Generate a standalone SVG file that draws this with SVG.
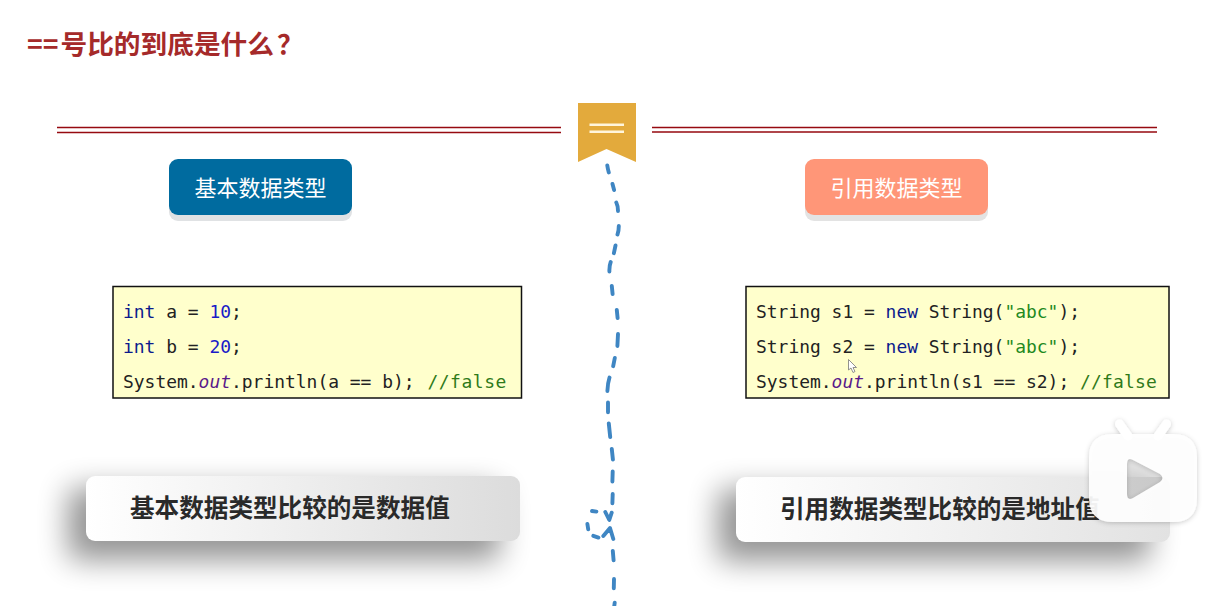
<svg xmlns="http://www.w3.org/2000/svg" width="1228" height="606" viewBox="0 0 1228 606">
<style>
.cjk{font-family:"Noto Sans CJK SC","Noto Sans",sans-serif}
.title{font-size:26.7px;font-weight:700;fill:#a52a2a}
.btn{font-size:22px;fill:#fff;text-anchor:middle}
.code{font-family:"DejaVu Sans Mono","Liberation Mono",monospace;font-size:17.95px;fill:#222}
.box{fill:#ffffcc;stroke:#111;stroke-width:1.5}
.kw{fill:#0b1a8c}.num{fill:#1a1ac8}.fld{fill:#5a1a8a;font-style:italic}.cmt{fill:#2f7a1a}.str{fill:#1f8a1f}
.note{font-size:24.6px;font-weight:700;fill:#2a2a2a}
.panel{fill:url(#pg)}
.rule{stroke:#960a10;stroke-width:1.5;fill:none}
.dash{fill:none;stroke:#3f86c3;stroke-width:3.9;stroke-linecap:round;stroke-linejoin:round}
</style>
<defs>
<linearGradient id="pg" x1="0" x2="1" y1="0" y2="0"><stop offset="0" stop-color="#ffffff"/><stop offset="1" stop-color="#dcdcdc"/></linearGradient>
<linearGradient id="pg2" x1="0" x2="1" y1="0" y2="0"><stop offset="0" stop-color="#ffffff"/><stop offset="1" stop-color="#e2e2e2"/></linearGradient>
<filter id="blur" x="-20%" y="-80%" width="140%" height="260%"><feGaussianBlur stdDeviation="15"/></filter>
<filter id="tvs" x="-20%" y="-20%" width="140%" height="140%"><feDropShadow dx="0" dy="1" stdDeviation="2.5" flood-color="#000" flood-opacity=".22"/></filter>
</defs>
<rect width="1228" height="606" fill="#fff"/>
<text class="cjk title" x="27" y="54">==<tspan dx="2">号比的到底是什么</tspan><tspan dx="3">？</tspan></text>
<g id="divider">
<path class="rule" d="M57 127.500H561M57 132.500H561M652 127.500H1157M652 132H1157"/>
<path d="M578 103H636V162L606.5 149L578 162Z" fill="#e3aa3c"/>
<path d="M589.5 124.8H624M589.5 131.8H624" stroke="#fff5dc" stroke-width="2.6" fill="none"/>
</g>
<g id="connectors">
<path class="dash" d="M607.3 165.500Q607.8 169 608.800 172.500M612.5 184L614.1 190M616.300 202.500Q618 206 618 211M618.800 226Q618.800 231 617.5 234.500M615.5 245.500L613.900 253.200M610.7 262Q609.200 266 609.4 271.500M611.8 286L612.6 294M616.8 310L617.6 318M618 334L617.4 346M614.8 358L613.200 366.200M609.5 377.500Q607.7 383 607.4 391M608 402.500V412.200M608.8 423.500L610.2 437M611.8 449L612.9 459.500M612.7 471.500L612.4 481.500M612.7 494L612.4 503.300M605.3 512L609.3 520L611.7 512.7M592 511L596.4 511.6M587.4 524L588.200 529.300M593.300 535.800L598.400 537.600M603.3 536L610 528L613.3 539M612.8 551L613.6 560.300M614 579L613.8 588.300M614.7 602.700L614 608"/>
</g>
<g id="btn-primitive">
<rect x="169" y="165" width="183" height="56" rx="9" fill="#e0e2e4"/>
<rect x="169" y="159" width="183" height="56" rx="9" fill="#006b9f"/>
<text class="cjk btn" x="260.5" y="196">基本数据类型</text>
</g>
<g id="btn-reference">
<rect x="805" y="165" width="183" height="56" rx="9" fill="#e3e3e3"/>
<rect x="805" y="159" width="183" height="56" rx="9" fill="#ff9678"/>
<text class="cjk btn" x="896.5" y="196">引用数据类型</text>
</g>
<g id="code-primitive">
<rect class="box" x="113" y="286.5" width="408.500" height="111.500"/>
<text class="code" x="123" y="318"><tspan class="kw">int</tspan> a = <tspan class="num">10</tspan>;</text>
<text class="code" x="123" y="353"><tspan class="kw">int</tspan> b = <tspan class="num">20</tspan>;</text>
<text class="code" x="123" y="388">System.<tspan class="fld">out</tspan>.println(a == b); <tspan class="cmt" dx="2" letter-spacing=".55">//false</tspan></text>
</g>
<g id="code-reference">
<rect class="box" x="746" y="286.5" width="423" height="111.500"/>
<text class="code" x="756" y="318">String s1 = <tspan class="kw">new</tspan> String(<tspan class="str">"abc"</tspan>);</text>
<text class="code" x="756" y="353">String s2 = <tspan class="kw">new</tspan> String(<tspan class="str">"abc"</tspan>);</text>
<text class="code" x="756" y="388">System.<tspan class="fld">out</tspan>.println(s1 == s2); <tspan class="cmt" letter-spacing=".2">//false</tspan></text>
<path d="M848.500 359.500V370L851 368L853 372.500L855 371.500L853 367.500L856.500 367.500Z" fill="#fff" stroke="#777" stroke-width=".8"/>
</g>
<g id="note-primitive">
<rect x="68" y="488" width="432" height="72" rx="8" fill="#000" opacity=".42" filter="url(#blur)"/>
<rect class="panel" x="86" y="476" width="434" height="65" rx="9"/>
<text class="cjk note" x="130" y="516.500">基本数据类型比较的是数据值</text>
</g>
<g id="note-reference">
<rect x="718" y="489" width="432" height="72" rx="8" fill="#000" opacity=".42" filter="url(#blur)"/>
<rect x="736" y="477" width="434" height="65" rx="9" fill="url(#pg2)"/>
<text class="cjk note" x="780" y="517.500">引用数据类型比较的是地址值</text>
</g>
<g id="tv-badge" filter="url(#tvs)">
<path d="M1119.500 424L1128 436M1166.500 424L1158 436" stroke="#fff" stroke-width="9" stroke-linecap="round" fill="none"/>
<path fill-rule="evenodd" fill="#fff" fill-opacity=".92" d="M1113 434H1173Q1197 434 1197 458V498Q1197 522 1173 522H1113Q1089 522 1089 498V458Q1089 434 1113 434ZM1133 460Q1127 457 1127 464V494Q1127 501 1133 498L1160 482Q1165 478 1160 474Z"/>
<path fill="#000" fill-opacity=".09" d="M1133 460Q1127 457 1127 464V494Q1127 501 1133 498L1160 482Q1165 478 1160 474Z"/>
</g>
</svg>
